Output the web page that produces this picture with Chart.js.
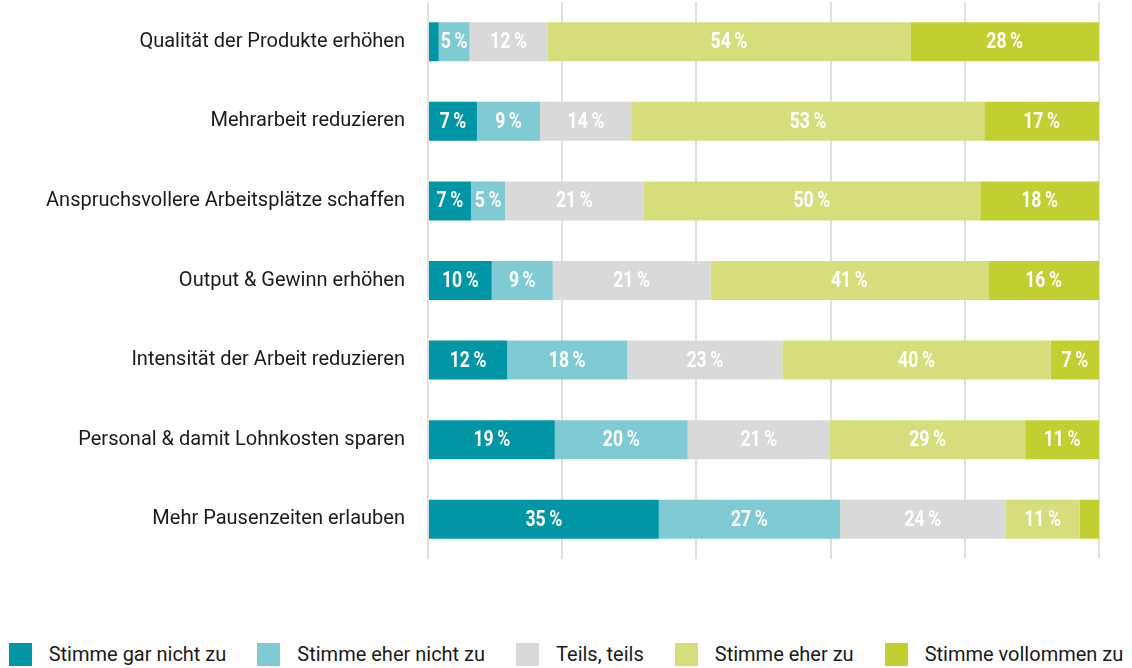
<!DOCTYPE html>
<html lang="de">
<head>
<meta charset="utf-8">
<script src="https://cdn.jsdelivr.net/npm/chart.js@4"></script>
<style>
  body { margin: 0; background: #fff; font-family: Roboto, sans-serif; overflow: hidden; }
  #wrap { position: relative; width: 1132px; height: 668px; overflow: hidden; }
  #chartBox { position: absolute; left: 0; top: -25px; width: 1132px; height: 625px; }
  #legend { position: absolute; left: 0; top: 643px; width: 1132px; display: flex; justify-content: center; gap: 31px; }
  .item { display: flex; align-items: center; font-size: 20px; color: #1a1a1a; line-height: 23px; }
  .box { width: 23px; height: 23px; margin-right: 17px; }
</style>
</head>
<body>
<div id="wrap">
  <div id="chartBox"><canvas id="chart"></canvas></div>
  <div id="legend"></div>
</div>
<script>
const categories = [
  "Qualität der Produkte erhöhen",
  "Mehrarbeit reduzieren",
  "Anspruchsvollere Arbeitsplätze schaffen",
  "Output & Gewinn erhöhen",
  "Intensität der Arbeit reduzieren",
  "Personal & damit Lohnkosten sparen",
  "Mehr Pausenzeiten erlauben"
];

const seriesNames = ["Stimme gar nicht zu", "Stimme eher nicht zu", "Teils, teils", "Stimme eher zu", "Stimme vollommen zu"];
const seriesColors = ["#0096a6", "#80cad3", "#d9d9d9", "#d6de7c", "#c1cf30"];

// bar lengths in percent (measured)
const garNicht  = [1.6, 7.3, 6.4, 9.5, 11.8, 18.9, 34.4];
const eherNicht = [4.6, 9.4, 5.1, 9.1, 17.9, 19.8, 27.0];
const teils     = [11.6, 13.7, 20.6, 23.5, 23.1, 21.2, 24.7];
const eherZu    = [54.1, 52.5, 50.2, 41.4, 40.0, 29.1, 11.0];
const voll      = [28.1, 17.1, 17.7, 16.5, 7.2, 11.0, 2.9];

// printed labels
const garNichtLbl  = [null, 7, 7, 10, 12, 19, 35];
const eherNichtLbl = [5, 9, 5, 9, 18, 20, 27];
const teilsLbl     = [12, 14, 21, 21, 23, 21, 24];
const eherZuLbl    = [54, 53, 50, 41, 40, 29, 11];
const vollLbl      = [28, 17, 18, 16, 7, 11, null];

const xTicks = [0, 20, 40, 60, 80, 100];

const values = [garNicht, eherNicht, teils, eherZu, voll];
const labels = [garNichtLbl, eherNichtLbl, teilsLbl, eherZuLbl, vollLbl];

// legend
const legend = document.getElementById("legend");
seriesNames.forEach((name, i) => {
  legend.innerHTML += `<div class="item"><div class="box" style="background:${seriesColors[i]}"></div>${name}</div>`;
});

// white value labels inside the bars
const barLabels = {
  id: "barLabels",
  afterDatasetsDraw(chart) {
    const ctx = chart.ctx;
    ctx.save();
    ctx.fillStyle = "#fff";
    ctx.font = "bold 22px Roboto";
    ctx.textAlign = "center";
    ctx.textBaseline = "middle";
    chart.data.datasets.forEach((ds, di) => {
      chart.getDatasetMeta(di).data.forEach((bar, i) => {
        const v = labels[di][i];
        if (v == null) return;
        ctx.save();
        ctx.translate((bar.x + bar.base) / 2, bar.y + 1);
        ctx.scale(0.8, 1);
        ctx.fillText(v + "\u2009%", 0, 0);
        ctx.restore();
      });
    });
    ctx.restore();
  }
};

new Chart(document.getElementById("chart"), {
  type: "bar",
  data: {
    labels: categories,
    datasets: seriesNames.map((name, i) => ({
      label: name,
      data: values[i],
      backgroundColor: seriesColors[i],
      borderWidth: 0,
      barPercentage: 0.49,
      categoryPercentage: 1
    }))
  },
  options: {
    indexAxis: "y",
    responsive: true,
    maintainAspectRatio: false,
    animation: false,
    layout: { padding: { top: 2, right: 33, bottom: 41, left: 0 } },
    plugins: {
      legend: { display: false },
      tooltip: { enabled: false }
    },
    scales: {
      x: {
        stacked: true,
        min: 0,
        max: 100,
        afterBuildTicks: s => { s.ticks = xTicks.map(v => ({ value: v })); },
        ticks: { display: false },
        grid: { color: "#e0e0e0", lineWidth: 2, drawTicks: false },
        border: { display: false },
        afterFit: s => { s.height = 0; }
      },
      y: {
        stacked: true,
        grid: { display: false },
        border: { display: false },
        ticks: { color: "#1a1a1a", font: { family: "Roboto", size: 20 }, padding: 15 },
        afterFit: s => { s.width = 428; }
      }
    }
  },
  plugins: [barLabels]
});
</script>
</body>
</html>
